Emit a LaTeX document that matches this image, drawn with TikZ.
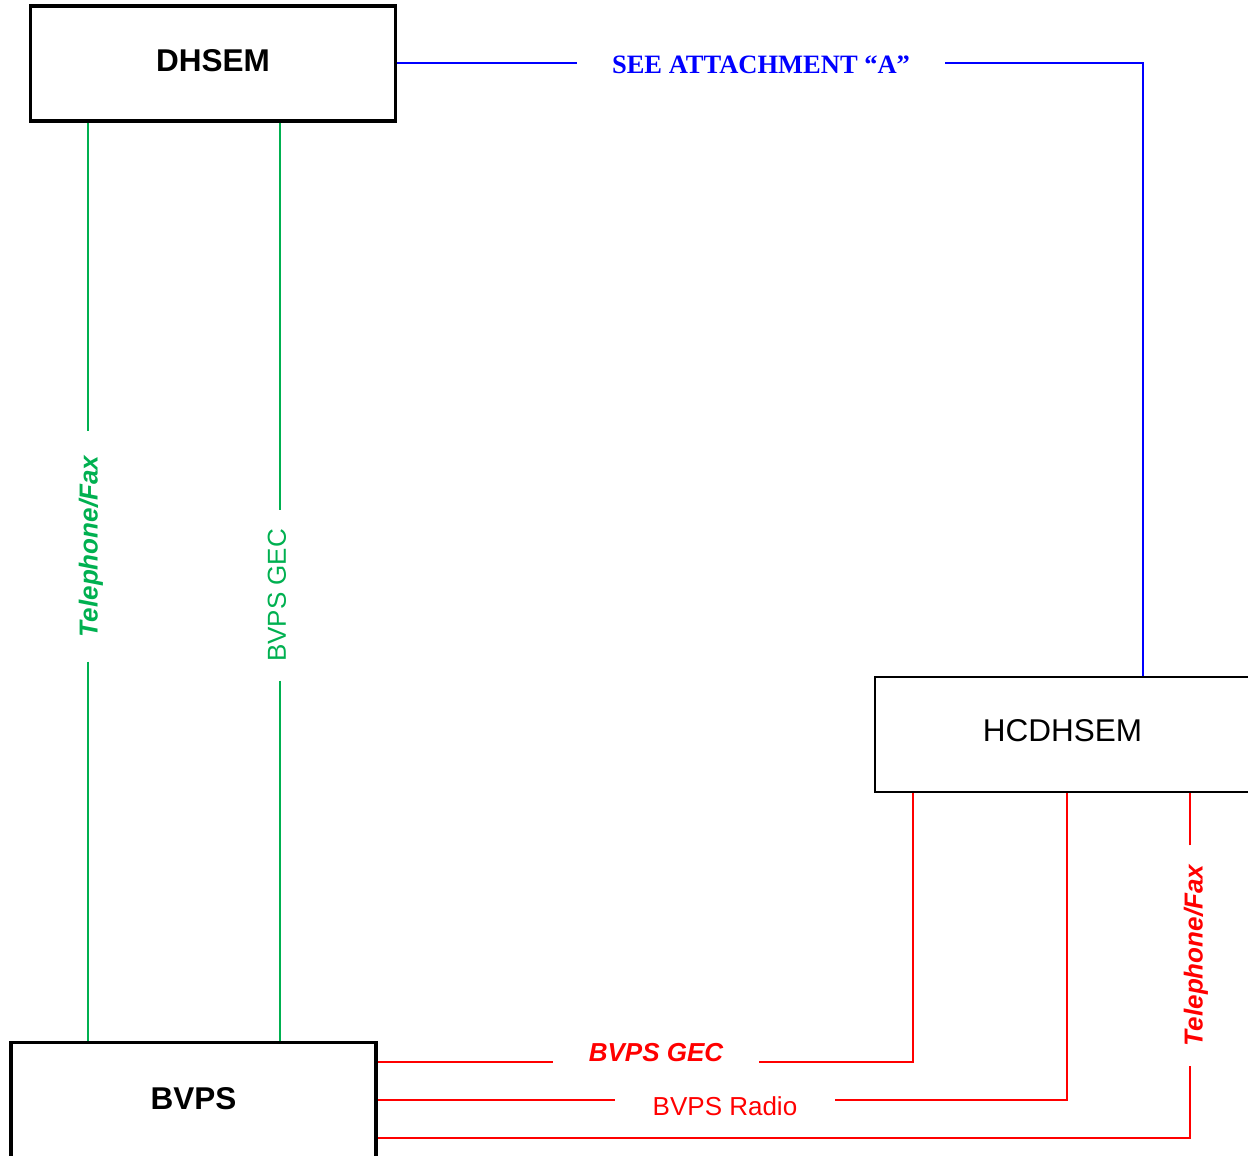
\documentclass[tikz,border=0pt]{standalone}
\usepackage{fontspec}
\setmainfont{Liberation Sans}
\newfontfamily\timesfont{Liberation Serif}
\usepackage{xcolor}
\usepackage{tikz}
\usetikzlibrary{calc}
\definecolor{grn}{HTML}{00B050}
\definecolor{blu}{HTML}{0000FF}
\definecolor{rd}{HTML}{FF0000}
\tikzset{
  unit/.style={
    draw=black,
    line width=3.5pt,
    minimum width=365pt,
    minimum height=115pt,
    inner sep=0pt,
    text depth=5pt,
    font=\fontsize{31.5}{36}\selectfont\bfseries
  },
  greenline/.style={draw=grn, line width=1.5pt},
  blueline/.style={draw=blu, line width=1.5pt},
  redline/.style={draw=rd, line width=1.5pt},
  tag/.style={
    inner ysep=0pt,
    font=\fontsize{26}{30}\selectfont
  },
  tagbi/.style={
    tag,
    font=\fontsize{26}{30}\selectfont\bfseries\itshape
  }
}

\begin{document}
\begin{tikzpicture}[x=1pt, y=-1pt]
  \clip (0,0) rectangle (1248,1156);

  % agencies
  \node[unit] (dhsem) at (213,63.5) {DHSEM};
  \node[unit, minimum height=117pt] (bvps) at (193.5,1101) {BVPS};
  \node[unit, line width=1.7pt, minimum width=375pt, minimum height=115.5pt,
        text depth=8pt, font=\fontsize{31.5}{36}\selectfont] (hcd) at (1062.5,734.5) {HCDHSEM};

  % link labels
  \node[tag, anchor=base, text=blu, inner xsep=35pt,
        font=\fontsize{26.5}{30}\selectfont\timesfont\bfseries] (att) at (761,74) {SEE ATTACHMENT “A”};
  \node[tagbi, text=grn, rotate=90, inner xsep=24.5pt] (tf1) at (91,546.5) {Telephone/Fax};
  \node[tag, text=grn, rotate=90, inner xsep=18.5pt] (gec1) at (277,595.5) {BVPS GEC};
  \node[tagbi, anchor=base, text=rd, inner xsep=36pt] (gec2) at (656,1061) {BVPS GEC};
  \node[tag, anchor=base, text=rd, inner xsep=38pt] (radio) at (725,1115) {BVPS Radio};
  \node[tagbi, text=rd, rotate=90, inner xsep=19.5pt] (tf2) at (1196,955.5) {Telephone/Fax};

  % where the lines run
  \coordinate (g1) at (88,0);
  \coordinate (g2) at (280,0);
  \coordinate (b1) at (1143,63);
  \coordinate (c1) at (913,1062);
  \coordinate (c2) at (1067,1100);
  \coordinate (c3) at (1190,1138);

  % DHSEM - BVPS
  \draw[greenline] (dhsem.south -| g1) -- (tf1.east -| g1);
  \draw[greenline] (tf1.west -| g1) -- (bvps.north -| g1);
  \draw[greenline] (dhsem.south -| g2) -- (gec1.east -| g2);
  \draw[greenline] (gec1.west -| g2) -- (bvps.north -| g2);

  % DHSEM - HCDHSEM
  \draw[blueline] (dhsem.east |- b1) -- (att.west |- b1);
  \draw[blueline] (att.east |- b1) -- (b1) -- (b1 |- hcd.north);

  % BVPS - HCDHSEM
  \draw[redline] (bvps.east |- c1) -- (gec2.west |- c1);
  \draw[redline] (gec2.east |- c1) -- (c1) -- (c1 |- hcd.south);
  \draw[redline] (bvps.east |- c2) -- (radio.west |- c2);
  \draw[redline] (radio.east |- c2) -- (c2) -- (c2 |- hcd.south);
  \draw[redline] (bvps.east |- c3) -- (c3) -- (c3 |- tf2.west);
  \draw[redline] (c3 |- tf2.east) -- (c3 |- hcd.south);
\end{tikzpicture}
\end{document}
